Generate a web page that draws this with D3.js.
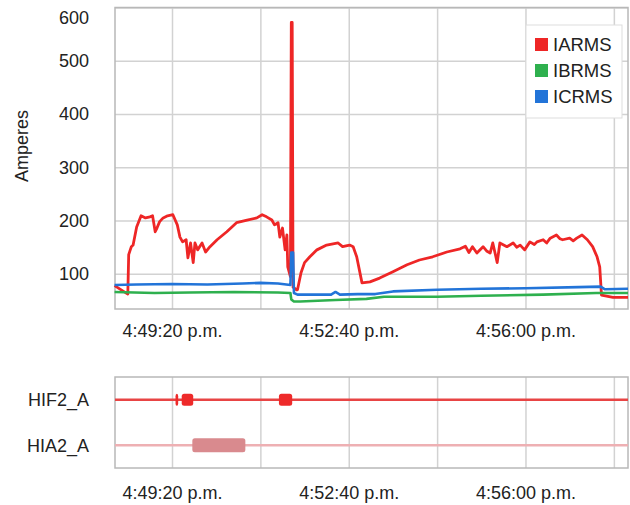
<!DOCTYPE html>
<html>
<head>
<meta charset="utf-8">
<script src="https://cdn.jsdelivr.net/npm/d3@7"></script>
<style>
  body { margin: 0; background: #fff; }
  text { font-family: "Liberation Sans", Arial, sans-serif; fill: #222; }
</style>
</head>
<body>
<svg id="chart" width="630" height="505"></svg>
<script>
// times are seconds after 4:48:00 p.m.
var seriesNames = ['IARMS', 'IBRMS', 'ICRMS'];
var seriesColors = ['#ee2626', '#2eb04e', '#2274d8'];

var iaSecs = [15, 30, 31, 34, 36, 40, 45, 50, 55, 58, 61, 63, 66, 70, 75, 81, 86, 89, 92, 96, 98, 101, 104, 106, 109, 114, 118, 123, 131, 142, 153, 165, 176, 182, 187, 193, 196, 200, 202, 205, 208, 210, 211, 214, 215, 216, 217, 221, 222, 226, 230, 236, 244, 255, 268, 273, 281, 285, 289, 295, 304, 315, 330, 346, 360, 375, 391, 406, 412, 416, 420, 425, 432, 436, 440, 443, 448, 451, 459, 466, 470, 474, 479, 485, 490, 493, 500, 504, 508, 515, 519, 522, 530, 534, 538, 544, 550, 556, 561, 564, 566, 579, 596];
var iaVals = [78, 62, 136, 151, 154, 188, 209, 205, 207, 209, 179, 186, 198, 205, 209, 211, 192, 169, 160, 164, 130, 158, 121, 158, 145, 158, 141, 151, 164, 179, 196, 201, 205, 211, 207, 201, 192, 196, 169, 186, 145, 173, 113, 95, 572, 572, 75, 70, 70, 102, 121, 132, 145, 154, 158, 151, 154, 151, 132, 83, 85, 92, 104, 117, 126, 132, 141, 147, 152, 140, 151, 139, 151, 143, 139, 158, 121, 158, 151, 158, 150, 154, 145, 160, 155, 160, 164, 158, 167, 173, 166, 164, 167, 162, 167, 173, 164, 151, 132, 113, 60, 56, 56];

var ibSecs = [15, 60, 100, 150, 200, 214, 215, 218, 225, 265, 300, 320, 380, 430, 500, 560, 596];
var ibVals = [66, 64, 65, 66, 65, 64, 52, 48, 48, 51, 53, 57, 57, 59, 61, 64, 64];

var icSecs = [15, 40, 80, 120, 160, 180, 200, 214, 215, 217, 218, 222, 260, 265, 270, 290, 310, 330, 380, 430, 480, 540, 565, 570, 596];
var icVals = [79, 80, 81, 80, 82, 83, 82, 79, 140, 140, 64, 61, 61, 66, 61, 62, 62, 67, 70, 72, 73, 75, 76, 71, 72];

var yTicks = [100, 200, 300, 400, 500, 600];
var gridSecs = [80, 180, 280, 380, 480, 580];
var labelSecs = [80, 280, 480];

var eventRows = ['HIF2_A', 'HIA2_A'];
var eventColors = ['#ee2a2a', '#d98a8e'];
var rowLineColors = ['#e84444', '#eeb0b3'];
var hifEvents = [[84, 87], [91, 104], [201, 216]];
var hiaEvents = [[103, 163]];

var base = new Date(2000, 0, 1, 16, 48, 0);
function toTime(s) { return new Date(base.getTime() + s * 1000); }
var fmt = d3.timeFormat('%-I:%M:%S');

var svg = d3.select('#chart');

var x = d3.scaleTime().domain([toTime(15.5), toTime(596)]).range([115, 628]);
var y = d3.scaleLinear().domain([34, 600]).range([309, 7.5]);

// Top chart grid
var topG = svg.append('g');
topG.append('g')
  .attr('transform', 'translate(0,309)')
  .call(d3.axisBottom(x).tickValues(gridSecs.map(toTime)).tickSize(-301.5).tickFormat(''))
  .call(function (g) { g.select('.domain').remove(); g.selectAll('line').attr('stroke', '#d2d2d2').attr('stroke-width', 1.5); });
topG.append('g')
  .attr('transform', 'translate(115,0)')
  .call(d3.axisLeft(y).tickValues(yTicks).tickSize(-513).tickPadding(26).tickFormat(d3.format('d')))
  .call(function (g) {
    g.select('.domain').remove();
    g.selectAll('line').attr('stroke', '#d2d2d2').attr('stroke-width', 1.5);
    g.selectAll('text').attr('font-size', '18px').attr('fill', '#222')
      .attr('y', function (d) { return d === 600 ? 10 : 0; });
  });
topG.append('rect')
  .attr('x', 115).attr('y', 7.5).attr('width', 513).attr('height', 301.5)
  .attr('fill', 'none').attr('stroke', '#b8b8b8').attr('stroke-width', 1.5);

// x labels for top chart
topG.append('g')
  .attr('transform', 'translate(0,309)')
  .call(d3.axisBottom(x).tickValues(labelSecs.map(toTime)).tickSize(0).tickPadding(15)
    .tickFormat(function (d) { return fmt(d) + ' p.m.'; }))
  .call(function (g) { g.select('.domain').remove(); g.selectAll('text').attr('font-size', '18px').attr('fill', '#222'); });

svg.append('text')
  .attr('transform', 'translate(28,146) rotate(-90)')
  .attr('text-anchor', 'middle')
  .attr('font-size', '18px')
  .text('Amperes');

// Lines
var series = [
  { secs: iaSecs, vals: iaVals },
  { secs: ibSecs, vals: ibVals },
  { secs: icSecs, vals: icVals }
];
var line = d3.line()
  .x(function (d) { return x(toTime(d[0])); })
  .y(function (d) { return y(d[1]); });

series.forEach(function (s, i) {
  svg.append('path')
    .datum(d3.zip(s.secs, s.vals))
    .attr('d', line)
    .attr('fill', 'none')
    .attr('stroke', seriesColors[i])
    .attr('stroke-width', i === 0 ? 2.8 : 2.6)
    .attr('stroke-linejoin', 'round');
});

// Legend
var lg = svg.append('g');
lg.append('rect')
  .attr('x', 526).attr('y', 25).attr('width', 96).attr('height', 93)
  .attr('fill', '#fff').attr('stroke', '#dddddd');
seriesNames.forEach(function (n, i) {
  lg.append('rect')
    .attr('x', 535).attr('y', 38 + i * 26).attr('width', 13).attr('height', 13)
    .attr('fill', seriesColors[i]);
  lg.append('text')
    .attr('x', 553).attr('y', 45 + i * 26).attr('dy', '0.35em')
    .attr('font-size', '18.5px')
    .text(n);
});

// Bottom chart
var rowY = d3.scalePoint().domain(eventRows).range([377, 468]).padding(0.5);
var bot = svg.append('g');
bot.append('g')
  .attr('transform', 'translate(0,468)')
  .call(d3.axisBottom(x).tickValues(gridSecs.map(toTime)).tickSize(-91).tickFormat(''))
  .call(function (g) { g.select('.domain').remove(); g.selectAll('line').attr('stroke', '#d2d2d2').attr('stroke-width', 1.5); });
bot.append('rect')
  .attr('x', 115).attr('y', 377).attr('width', 513).attr('height', 91)
  .attr('fill', 'none').attr('stroke', '#b8b8b8').attr('stroke-width', 1.5);
bot.append('g')
  .attr('transform', 'translate(0,468)')
  .call(d3.axisBottom(x).tickValues(labelSecs.map(toTime)).tickSize(0).tickPadding(18)
    .tickFormat(function (d) { return fmt(d) + ' p.m.'; }))
  .call(function (g) { g.select('.domain').remove(); g.selectAll('text').attr('font-size', '18px').attr('fill', '#222'); });
bot.append('g')
  .attr('transform', 'translate(115,0)')
  .call(d3.axisLeft(rowY).tickSize(0).tickPadding(26))
  .call(function (g) { g.select('.domain').remove(); g.selectAll('text').attr('font-size', '18px').attr('fill', '#222'); });

eventRows.forEach(function (r, i) {
  bot.append('line')
    .attr('x1', 115).attr('x2', 628)
    .attr('y1', rowY(r)).attr('y2', rowY(r))
    .attr('stroke', rowLineColors[i]).attr('stroke-width', 2.5);
});

var evH = [12, 14];
[hifEvents, hiaEvents].forEach(function (evs, i) {
  bot.selectAll(null)
    .data(evs)
    .enter()
    .append('rect')
    .attr('x', function (d) { return x(toTime(d[0])); })
    .attr('width', function (d) { return x(toTime(d[1])) - x(toTime(d[0])); })
    .attr('y', rowY(eventRows[i]) - evH[i] / 2)
    .attr('height', evH[i])
    .attr('rx', 2.5)
    .attr('fill', eventColors[i]);
});
</script>
</body>
</html>
